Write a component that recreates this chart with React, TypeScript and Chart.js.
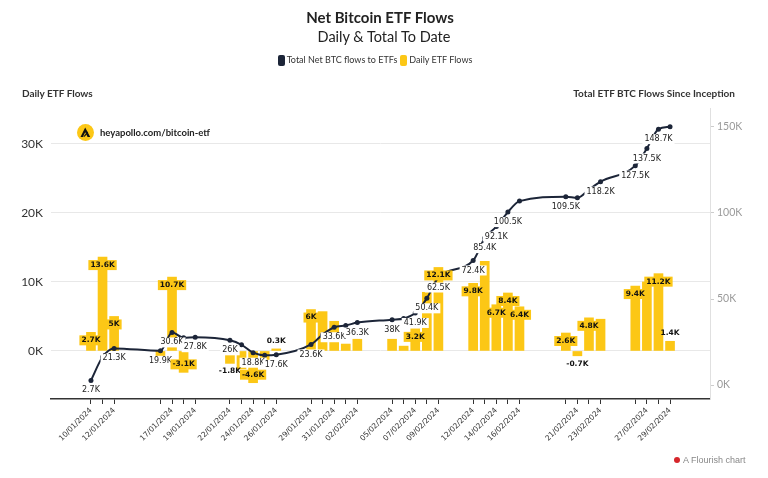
import React, { useEffect, useRef } from "react";
import { Chart, registerables } from "chart.js";

Chart.register(...registerables);

// ---------- data ----------
const dates = [
  "10/01/2024", "11/01/2024", "12/01/2024",
  "16/01/2024", "17/01/2024", "18/01/2024", "19/01/2024",
  "22/01/2024", "23/01/2024", "24/01/2024", "25/01/2024", "26/01/2024",
  "29/01/2024", "30/01/2024", "31/01/2024", "01/02/2024", "02/02/2024",
  "05/02/2024", "06/02/2024", "07/02/2024", "08/02/2024", "09/02/2024",
  "12/02/2024", "13/02/2024", "14/02/2024", "15/02/2024", "16/02/2024",
  "20/02/2024", "21/02/2024", "22/02/2024", "23/02/2024",
  "26/02/2024", "27/02/2024", "28/02/2024", "29/02/2024",
];

// Daily ETF flows (thousand BTC)
const dailyFlows = [
  2.7, 13.6, 5.0,
  -1.4, 10.7, -3.1, 0.3,
  -1.8, -2.6, -4.6, -1.5, 0.3,
  6.0, 5.7, 4.3, 1.0, 1.7,
  1.7, 0.7, 3.2, 8.5, 12.1,
  9.8, 13.0, 6.7, 8.4, 6.4,
  2.6, -0.7, 4.8, 4.6,
  9.4, 10.0, 11.2, 1.4,
];

// Total net BTC flows to ETFs (thousand BTC)
const totalFlows = [
  2.7, 16.3, 21.3,
  19.9, 30.6, 27.5, 27.8,
  26.0, 23.4, 18.8, 17.3, 17.6,
  23.6, 29.3, 33.6, 34.6, 36.3,
  38.0, 38.7, 41.9, 50.4, 62.5,
  72.4, 85.4, 92.1, 100.5, 106.9,
  109.5, 108.8, 113.6, 118.2,
  127.5, 137.5, 148.7, 150.1,
];

const xTickLabels = [
  "10/01/2024", "12/01/2024", "17/01/2024", "19/01/2024", "22/01/2024",
  "24/01/2024", "26/01/2024", "29/01/2024", "31/01/2024", "02/02/2024",
  "05/02/2024", "07/02/2024", "09/02/2024", "12/02/2024", "14/02/2024",
  "16/02/2024", "21/02/2024", "23/02/2024", "27/02/2024", "29/02/2024",
];

const leftTicks = [0, 10, 20, 30];
const rightTicks = [0, 50, 100, 150];

// which points carry a value label
const dailyLabelDates = [
  "10/01/2024", "11/01/2024", "12/01/2024", "17/01/2024", "18/01/2024",
  "22/01/2024", "24/01/2024", "26/01/2024", "29/01/2024", "07/02/2024",
  "09/02/2024", "12/02/2024", "14/02/2024", "15/02/2024", "16/02/2024",
  "20/02/2024", "21/02/2024", "22/02/2024", "26/02/2024", "28/02/2024",
  "29/02/2024",
];
const totalLabelDates = [
  "10/01/2024", "12/01/2024", "16/01/2024", "17/01/2024", "19/01/2024",
  "22/01/2024", "24/01/2024", "26/01/2024", "29/01/2024", "31/01/2024",
  "02/02/2024", "05/02/2024", "07/02/2024", "08/02/2024", "09/02/2024",
  "12/02/2024", "13/02/2024", "14/02/2024", "15/02/2024", "20/02/2024",
  "23/02/2024", "26/02/2024", "27/02/2024", "28/02/2024",
];

// ---------- helpers ----------
const BASE = Date.UTC(2024, 0, 10);
const dayIndex = (s: string) => {
  const [d, m, y] = s.split("/").map(Number);
  return Math.round((Date.UTC(y, m - 1, d) - BASE) / 86400000);
};
const xs = dates.map(dayIndex);
const fmtK = (v: number) => `${Number(v.toFixed(1))}K`;

const YELLOW = "#fcc716";
const NAVY = "#1c2538";

const valueLabels = {
  id: "valueLabels",
  afterDatasetsDraw(chart: any) {
    const ctx = chart.ctx;
    const area = chart.chartArea;
    const barMeta = chart.getDatasetMeta(0);
    const lineMeta = chart.getDatasetMeta(1);
    ctx.save();
    ctx.textAlign = "center";
    ctx.textBaseline = "middle";

    // line labels (white halo box)
    ctx.font = "8px 'DejaVu Sans'";
    totalFlows.forEach((v, i) => {
      if (!totalLabelDates.includes(dates[i])) return;
      const p = lineMeta.data[i];
      const t = fmtK(v);
      const w = ctx.measureText(t).width;
      let cy = p.y + 10;
      if (cy + 7 > area.bottom) cy = p.y - 7;
      ctx.fillStyle = "#ffffff";
      ctx.fillRect(p.x - w / 2 - 2, cy - 5, w + 4, 10);
      ctx.fillStyle = "#222222";
      ctx.fillText(t, p.x, cy);
    });

    // bar labels
    ctx.font = "bold 7.5px 'DejaVu Sans'";
    dailyFlows.forEach((v, i) => {
      if (!dailyLabelDates.includes(dates[i])) return;
      const b = barMeta.data[i];
      const t = fmtK(v);
      const w = ctx.measureText(t).width;
      const h = Math.abs(b.base - b.y);
      const dir = v >= 0 ? 1 : -1; // 1 = bar grows upward
      const inside = h >= 16;
      const cy = inside ? b.y + dir * 8 : b.y - dir * 8;
      if (inside) {
        ctx.fillStyle = YELLOW;
        ctx.fillRect(b.x - w / 2 - 2, cy - 5, w + 4, 10);
      }
      ctx.fillStyle = "#111111";
      ctx.fillText(t, b.x, cy);
    });
    ctx.restore();
  },
};

export default function App() {
  const ref = useRef<HTMLCanvasElement | null>(null);

  useEffect(() => {
    if (!ref.current) return;
    const chart = new Chart(ref.current, {
      type: "bar",
      data: {
        datasets: [
          {
            type: "bar",
            label: "Daily ETF Flows",
            data: xs.map((x, i) => ({ x, y: dailyFlows[i] })),
            backgroundColor: YELLOW,
            barThickness: 9,
            yAxisID: "y",
            order: 2,
          },
          {
            type: "line",
            label: "Total Net BTC flows to ETFs",
            data: xs.map((x, i) => ({ x, y: totalFlows[i] })),
            borderColor: NAVY,
            backgroundColor: NAVY,
            borderWidth: 2,
            pointRadius: 2.5,
            pointBackgroundColor: NAVY,
            pointBorderWidth: 0,
            cubicInterpolationMode: "monotone",
            yAxisID: "y1",
            order: 1,
          } as any,
        ],
      },
      options: {
        responsive: false,
        animation: false,
        layout: { padding: { top: 108, left: 0, right: 0, bottom: 0 } },
        plugins: {
          legend: { display: false },
          tooltip: { enabled: false },
        },
        scales: {
          x: {
            type: "linear",
            min: -3.45,
            max: 53.45,
            offset: false,
            afterBuildTicks: (s: any) => {
              s.ticks = xs.map((v) => ({ value: v }));
            },
            afterFit: (s: any) => {
              s.height = 79;
            },
            grid: {
              offset: false,
              drawOnChartArea: false,
              drawTicks: true,
              tickLength: 5,
              color: "#333333",
            },
            border: { display: true, color: "#333333", width: 1.5 },
            ticks: {
              autoSkip: false,
              minRotation: 45,
              maxRotation: 45,
              padding: 2,
              color: "#333333",
              font: { family: "'DejaVu Sans'", size: 7.5 },
              callback: (value: any) => {
                const idx = xs.indexOf(Number(value));
                if (idx < 0) return "";
                return xTickLabels.includes(dates[idx]) ? dates[idx] : "";
              },
            },
          },
          y: {
            position: "left",
            min: -6.96,
            max: 35.2,
            afterBuildTicks: (s: any) => {
              s.ticks = leftTicks.map((v) => ({ value: v }));
            },
            afterFit: (s: any) => {
              s.width = 51;
            },
            grid: { color: "#e8e8e8", drawTicks: false },
            border: { display: false },
            ticks: {
              padding: 8,
              color: "#333333",
              font: { family: "Lato", size: 12 },
              callback: (v: any) => `${v}K`,
            },
          },
          y1: {
            position: "right",
            min: -8.1,
            max: 161,
            afterBuildTicks: (s: any) => {
              s.ticks = rightTicks.map((v) => ({ value: v }));
            },
            afterFit: (s: any) => {
              s.width = 58;
            },
            grid: {
              drawOnChartArea: false,
              drawTicks: true,
              tickLength: 4,
              color: "#cccccc",
            },
            border: { display: true, color: "#e0e0e0" },
            ticks: {
              padding: 3,
              color: "#9a9a9a",
              font: { family: "Lato", size: 10.5 },
              callback: (v: any) => `${v}K`,
            },
          },
        },
      } as any,
      plugins: [valueLabels],
    });
    return () => chart.destroy();
  }, []);

  const abs = (o: React.CSSProperties): React.CSSProperties => ({
    position: "absolute",
    whiteSpace: "nowrap",
    ...o,
  });

  return (
    <div
      style={{
        position: "absolute",
        left: 0,
        top: 0,
        width: 768,
        height: 478,
        background: "#ffffff",
        fontFamily: "Lato, sans-serif",
        color: "#333",
        overflow: "hidden",
      }}
    >
      <canvas
        ref={ref}
        width={768}
        height={478}
        style={{ position: "absolute", left: 0, top: 0 }}
      />
      <div
        style={abs({
          left: 0,
          width: 760,
          top: 7,
          textAlign: "center",
          fontSize: 15,
          lineHeight: "20px",
          fontWeight: 700,
          color: "#222",
        })}
      >
        Net Bitcoin ETF Flows
      </div>
      <div
        style={abs({
          left: 0,
          width: 768,
          top: 28,
          textAlign: "center",
          fontSize: 14.5,
          lineHeight: "18px",
          color: "#222",
        })}
      >
        Daily &amp; Total To Date
      </div>
      <div
        style={abs({
          left: 0,
          width: 750,
          top: 54,
          display: "flex",
          justifyContent: "center",
          alignItems: "center",
          fontSize: 9,
          lineHeight: "12px",
          color: "#333",
        })}
      >
        <span
          style={{
            display: "inline-block",
            width: 7,
            height: 11,
            borderRadius: 2,
            background: NAVY,
            marginRight: 2,
          }}
        />
        <span style={{ marginRight: 3 }}>Total Net BTC flows to ETFs</span>
        <span
          style={{
            display: "inline-block",
            width: 7,
            height: 11,
            borderRadius: 2,
            background: YELLOW,
            marginRight: 2,
          }}
        />
        <span>Daily ETF Flows</span>
      </div>
      <div
        style={abs({
          left: 22,
          top: 87,
          fontSize: 10,
          lineHeight: "12px",
          fontWeight: 700,
          color: "#333",
        })}
      >
        Daily ETF Flows
      </div>
      <div
        style={abs({
          right: 33,
          top: 87,
          fontSize: 10,
          lineHeight: "12px",
          fontWeight: 700,
          color: "#333",
        })}
      >
        Total ETF BTC Flows Since Inception
      </div>
      <div
        style={abs({
          left: 77,
          top: 124,
          display: "flex",
          alignItems: "center",
        })}
      >
        <svg width="17" height="17" viewBox="0 0 17 17">
          <circle cx="8.5" cy="8.5" r="8.5" fill={YELLOW} />
          <path d="M3.5 13 L8.2 3.5 L13.2 13 L10.6 13 L8.2 8.2 L5.9 13 Z" fill="#111" />
          <path d="M6.2 12.8 L10.5 7.5 L11.2 8.8 L7.6 12.8 Z" fill="#111" />
        </svg>
        <span
          style={{
            marginLeft: 6,
            fontSize: 9.5,
            fontWeight: 700,
            color: "#222",
          }}
        >
          heyapollo.com/bitcoin-etf
        </span>
      </div>
      <div
        style={abs({
          left: 674,
          top: 455,
          display: "flex",
          alignItems: "center",
          fontFamily: "'Liberation Sans', Arial, sans-serif",
          fontSize: 9,
          color: "#888",
        })}
      >
        <span
          style={{
            display: "inline-block",
            width: 6,
            height: 6,
            borderRadius: 3,
            background: "#d6262b",
            marginRight: 3,
          }}
        />
        A Flourish chart
      </div>
    </div>
  );
}
